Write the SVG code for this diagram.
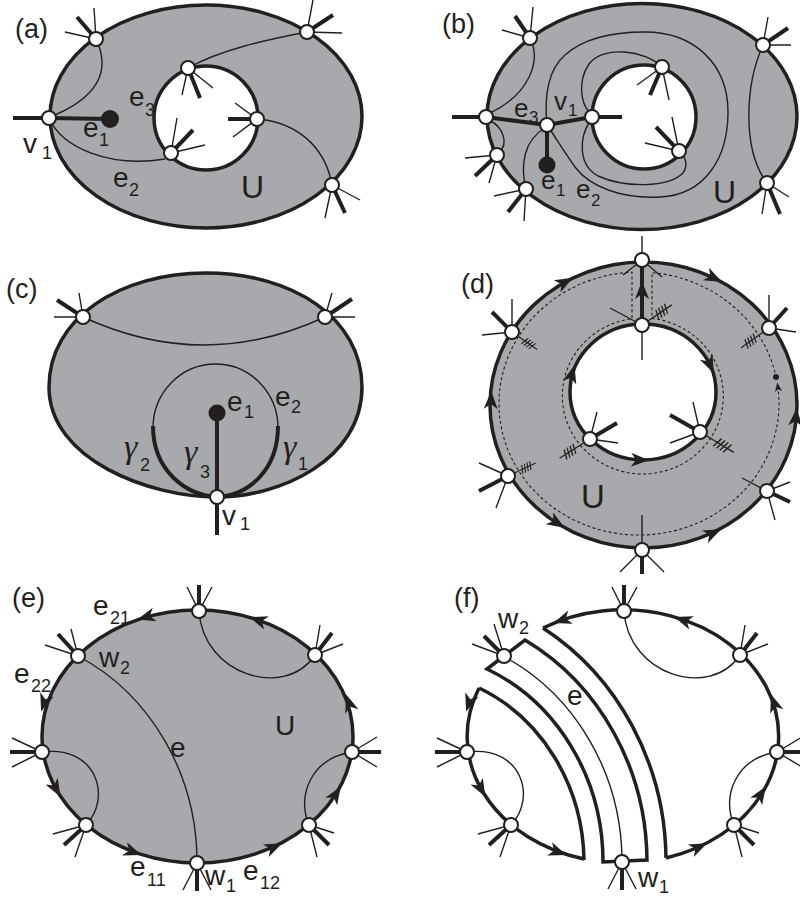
<svg xmlns="http://www.w3.org/2000/svg" xmlns:xlink="http://www.w3.org/1999/xlink" width="800" height="897" viewBox="0 0 800 897">
<style>
.g{fill:#a7a9ac}
.bd{fill:none;stroke:#231f20;stroke-width:3.5}
.bdg{fill:#a7a9ac;stroke:#231f20;stroke-width:3.5}
.bdw{fill:#fff;stroke:#231f20;stroke-width:3.5}
.th{fill:none;stroke:#231f20;stroke-width:1.4}
.tk{fill:none;stroke:#231f20;stroke-width:4}
.v{fill:#fff;stroke:#231f20;stroke-width:2}
.dot{fill:#231f20}
.ds{fill:none;stroke:#231f20;stroke-width:1.1;stroke-dasharray:3 2.5}
text{font-family:"Liberation Sans",Arial,sans-serif;fill:#231f20}
.lb{font-size:28px}
.pl{font-size:27px}
.s{font-size:18px}
.gm{font-style:italic;font-size:34px;font-family:"Liberation Serif","DejaVu Serif",serif}
</style>
<defs>
<path id="ah" d="M9,0 L-9,-7 L-4,0 L-9,7 Z" fill="#231f20"/>
<g id="hatch" fill="none" stroke="#231f20" stroke-width="1.3"><path d="M0,0H36 M20,-5 l-3,10 M23.5,-5 l-3,10 M27,-5 l-3,10 M30.5,-5 l-3,10"/></g>
<marker id="sm" viewBox="-6 -4 12 8" markerWidth="11" markerHeight="8" orient="auto" markerUnits="userSpaceOnUse"><path d="M5,0 L-5,-4 L-2.5,0 L-5,4Z" fill="#231f20"/></marker>
</defs>

<!-- ================= (a) ================= -->
<g id="panel-a">
<ellipse class="bdg" cx="206" cy="116.5" rx="156" ry="111.5"/>
<circle class="bdw" cx="206" cy="118" r="52"/>
<g id="a-edges">
<path class="th" d="M96,39 C107,62 108,92 55,115"/>
<path class="th" d="M49,118 C62,148 110,168 165,159"/>
<path class="th" d="M188,68 C220,50 265,40 307,32"/>
<path class="th" d="M257,119 C295,122 325,145 332,185"/>
<path class="tk" stroke-width="5" d="M49,118 L110,119"/>
<circle class="dot" cx="110" cy="119" r="9"/>
</g>
<g id="a-v1" transform="translate(49,118)"><path class="tk" d="M0,0 L-36,0"/><circle class="v" r="7"/></g>
<g id="a-tl" transform="translate(96,39)"><path class="tk" d="M0,0 L-19,-22"/><path class="th" d="M0,0 L-2,-31 M0,0 L-31,-7"/><circle class="v" r="7"/></g>
<g id="a-tr" transform="translate(307,32)"><path class="tk" d="M0,0 L26,-17"/><path class="th" d="M0,0 L6,-32 M0,0 L35,1"/><circle class="v" r="7"/></g>
<g id="a-br" transform="translate(332,185)"><path class="tk" d="M0,0 L13,28"/><path class="th" d="M0,0 L28,15 M0,0 L-7,33"/><circle class="v" r="7"/></g>
<g id="a-it" transform="translate(188,68)"><path class="tk" d="M0,0 L12,30"/><path class="th" d="M0,0 L-6,27 M0,0 L25,20"/><circle class="v" r="7"/></g>
<g id="a-ibl" transform="translate(171,153)"><path class="tk" d="M0,0 L22,-23"/><path class="th" d="M0,0 L6,-35 M0,0 L34,-8"/><circle class="v" r="7"/></g>
<g id="a-ir" transform="translate(257,119)"><path class="tk" d="M0,0 L-29,0"/><path class="th" d="M0,0 L-22,-16 M0,0 L-24,18"/><circle class="v" r="7"/></g>
<text class="pl" x="15" y="38">(a)</text>
<text class="lb" x="23" y="153">v<tspan class="s" x="42" y="159">1</tspan></text>
<text class="lb" x="83" y="137">e<tspan class="s" x="99" y="146">1</tspan></text>
<text class="lb" x="129" y="106">e<tspan class="s" x="145" y="116">3</tspan></text>
<text class="lb" x="113" y="187">e<tspan class="s" x="129" y="196">2</tspan></text>
<text x="241" y="198" font-size="32">U</text>
</g>

<!-- ================= (b) ================= -->
<g id="panel-b">
<ellipse class="bdg" cx="642" cy="116.5" rx="155" ry="113"/>
<circle class="bdw" cx="644" cy="117" r="52"/>
<g id="b-edges">
<path class="th" d="M530,38 C542,62 528,95 490,113"/>
<path class="th" d="M489,120 C505,128 508,145 499,152"/>
<path class="th" d="M526,189 C520,165 524,140 545,128"/>
<path class="th" d="M662,67 C645,50 603,45 589,64 C578,80 580,103 590,113"/>
<path class="th" d="M590,121 C579,138 578,165 598,176 C625,188 668,188 683,173 C688,166 686,158 681,153"/>
<path class="th" d="M547,125 C544,95 548,70 565,55 C585,37 615,32 645,32 C695,32 728,65 728,112 C728,158 705,195 660,197 C622,199 590,187 575,167 C565,153 557,140 551,131"/>
<path class="th" d="M763,45 C745,85 742,150 767,183"/>
<path class="tk" d="M486,117 L547,125 L592,117 M547,125 L547,165"/>
<circle class="dot" cx="547" cy="165" r="8.5"/>
</g>
<g id="b-tl" transform="translate(530,38)"><path class="tk" d="M0,0 L-15,-22"/><path class="th" d="M0,0 L3,-31 M0,0 L-28,-8"/><circle class="v" r="7"/></g>
<g id="b-l" transform="translate(486,117)"><path class="tk" d="M0,0 L-34,0"/><circle class="v" r="7"/></g>
<g id="b-ll1" transform="translate(497,155)"><path class="tk" d="M0,0 L-22,21"/><path class="th" d="M0,0 L-32,3 M0,0 L-8,28"/><circle class="v" r="7"/></g>
<g id="b-ll2" transform="translate(526,189)"><path class="tk" d="M0,0 L-18,23"/><path class="th" d="M0,0 L-32,7 M0,0 L-2,32"/><circle class="v" r="7"/></g>
<g id="b-tr" transform="translate(763,45)"><path class="tk" d="M0,0 L25,-17"/><path class="th" d="M0,0 L5,-28 M0,0 L28,0"/><circle class="v" r="7"/></g>
<g id="b-br" transform="translate(767,183)"><path class="tk" d="M0,0 L13,31"/><path class="th" d="M0,0 L22,14 M0,0 L-5,31"/><circle class="v" r="7"/></g>
<g id="b-il" transform="translate(592,117)"><path class="tk" d="M0,0 L30,0"/><circle class="v" r="7"/></g>
<g id="b-itr" transform="translate(662,67)"><path class="tk" d="M0,0 L-12,28"/><path class="th" d="M0,0 L-25,18 M0,0 L7,33"/><circle class="v" r="7"/></g>
<g id="b-ibr" transform="translate(679,151)"><path class="tk" d="M0,0 L-23,-24"/><path class="th" d="M0,0 L-34,-8 M0,0 L-7,-34"/><circle class="v" r="7"/></g>
<g id="b-v1" transform="translate(547,125)"><circle class="v" r="7"/></g>
<text class="pl" x="442" y="33">(b)</text>
<text font-size="26" x="514" y="117">e<tspan font-size="17" x="529" y="123">3</tspan></text>
<text font-size="26" x="554" y="110">v<tspan font-size="17" x="568" y="116">1</tspan></text>
<text font-size="26" x="541" y="189">e<tspan font-size="17" x="556" y="196">1</tspan></text>
<text font-size="26" x="576" y="198">e<tspan font-size="17" x="591" y="206">2</tspan></text>
<text x="713" y="203" font-size="32">U</text>
</g>

<!-- ================= (c) ================= -->
<g id="panel-c">
<path class="bdg" d="M217,497 C150,497 49,460 49,387 C49,318 120,273 206,273 C292,273 362,318 362,387 C362,460 280,497 217,497 Z"/>
<g id="c-edges">
<path class="th" d="M83,317 Q204,373 325,317"/>
<path class="th" d="M153,428 A62.5,64 0 0 1 278,428"/>
<path class="tk" stroke-width="6" d="M153,426 C153,470 185,495 217,497 M278,426 C278,470 249,495 217,497"/>
<path class="tk" stroke-width="4.5" d="M217,413 V452"/>
<path class="tk" stroke-width="7" d="M217,450 V497"/>
<circle class="dot" cx="217" cy="413" r="8.5"/>
</g>
<g id="c-tl" transform="translate(83,317)"><path class="tk" d="M0,0 L-26,-17"/><path class="th" d="M0,0 L-4,-24 M0,0 L-29,0"/><circle class="v" r="7"/></g>
<g id="c-tr" transform="translate(325,317)"><path class="tk" d="M0,0 L27,-18"/><path class="th" d="M0,0 L7,-24 M0,0 L30,0"/><circle class="v" r="7"/></g>
<g id="c-v1" transform="translate(217,497)"><path class="tk" d="M0,0 L0,38"/><circle class="v" r="7"/></g>
<text class="pl" x="6" y="298">(c)</text>
<text class="lb" x="227" y="411">e<tspan class="s" x="244" y="418">1</tspan></text>
<text class="lb" x="275" y="406">e<tspan class="s" x="291" y="413">2</tspan></text>
<text class="gm" x="124" y="458">γ<tspan font-size="18" font-style="normal" font-family="Liberation Sans" x="140" y="471">2</tspan></text>
<text class="gm" x="184" y="463">γ<tspan font-size="18" font-style="normal" font-family="Liberation Sans" x="200" y="478">3</tspan></text>
<text class="gm" x="283" y="458">γ<tspan font-size="18" font-style="normal" font-family="Liberation Sans" x="298" y="470">1</tspan></text>
<text class="lb" x="222" y="525">v<tspan class="s" x="240" y="530">1</tspan></text>
</g>

<!-- ================= (d) ================= -->
<g id="panel-d">
<ellipse class="bdg" cx="643.5" cy="405" rx="153.5" ry="143"/>
<ellipse class="bdw" cx="643" cy="392" rx="73" ry="68"/>
<g id="d-edges">
<path class="ds" marker-end="url(#sm)" d="M776.3,378 A140,131.5 0 0 0 652,272.6 L652,318.5 A80.5,78 0 1 1 632,318.7 L632,272.2 A140,131.5 0 1 0 777.9,387"/>
<circle class="dot" cx="776" cy="377" r="3"/>
<path class="tk" d="M642,325 L642,262"/>
<use href="#ah" transform="translate(642,290) rotate(-90)"/>
<use href="#ah" transform="translate(565,282) rotate(-29)"/>
<use href="#ah" transform="translate(714,278) rotate(26)"/>
<use href="#ah" transform="translate(796,417) rotate(-85)"/>
<use href="#ah" transform="translate(713,533) rotate(-25)"/>
<use href="#ah" transform="translate(557,523) rotate(32)"/>
<use href="#ah" transform="translate(491,400) rotate(-88)"/>
<use href="#ah" transform="translate(572,374) rotate(-74)"/>
<use href="#ah" transform="translate(710,365) rotate(65)"/>
<use href="#ah" transform="translate(640,460) rotate(2)"/>
</g>
<g id="d-ot" transform="translate(642,260)"><path class="th" d="M0,0 L0,-24 M0,0 L-19,15 M0,0 L20,17"/><circle class="v" r="7"/></g>
<g id="d-it" transform="translate(642,325)"><path class="th" d="M0,0 L-32,-17 M0,0 L0,35"/><use href="#hatch" transform="rotate(-34)"/><circle class="v" r="7"/></g>
<g id="d-ul" transform="translate(512,332)"><path class="tk" d="M0,0 L-20,-20"/><path class="th" d="M0,0 L0,-33 M0,0 L-30,3"/><use href="#hatch" transform="rotate(35) scale(0.85)"/><circle class="v" r="7"/></g>
<g id="d-ll" transform="translate(508,476)"><path class="tk" d="M0,0 L-29,15"/><path class="th" d="M0,0 L-29,-13 M0,0 L-12,32"/><use href="#hatch" transform="rotate(-25) scale(0.85)"/><circle class="v" r="7"/></g>
<g id="d-b" transform="translate(642,550)"><path class="tk" d="M0,0 L0,24"/><path class="th" d="M0,0 L0,-35 M0,0 L-22,22 M0,0 L22,22"/><circle class="v" r="7"/></g>
<g id="d-lr" transform="translate(767,491)"><path class="tk" d="M0,0 L23,11"/><path class="th" d="M0,0 L-25,-13 M0,0 L23,-9 M0,0 L8,29"/><circle class="v" r="7"/></g>
<g id="d-ur" transform="translate(769,328)"><path class="tk" d="M0,0 L18,-20"/><path class="th" d="M0,0 L0,-33 M0,0 L27,4"/><use href="#hatch" transform="rotate(144.5) scale(0.95)"/><circle class="v" r="7"/></g>
<g id="d-ill" transform="translate(590,439)"><path class="tk" d="M0,0 L27,-16"/><path class="th" d="M0,0 L7,-27 M0,0 L28,4"/><use href="#hatch" transform="rotate(147.7)"/><circle class="v" r="7"/></g>
<g id="d-ilr" transform="translate(700,432)"><path class="tk" d="M0,0 L-30,-17"/><path class="th" d="M0,0 L-7,-30 M0,0 L-30,11"/><use href="#hatch" transform="rotate(31) scale(1.1)"/><circle class="v" r="7"/></g>
<text class="pl" x="461" y="293">(d)</text>
<text x="581" y="508" font-size="33">U</text>
</g>

<!-- ================= (e) ================= -->
<g id="panel-e">
<ellipse class="bdg" cx="197.5" cy="736.5" rx="155.5" ry="126.5"/>
<g id="e-edges">
<path class="th" d="M199,611 C203,675 285,700 315,655"/>
<path class="th" d="M78,656 A214,230 0 0 1 197,863"/>
<path class="th" d="M42,752 C97,745 112,798 86,825"/>
<path class="th" d="M309,825 C296,795 312,758 352,752"/>
<use href="#ah" transform="translate(146,617) rotate(164)"/>
<use href="#ah" transform="translate(258,620) rotate(-161)"/>
<use href="#ah" transform="translate(44,703) rotate(108.6)"/>
<use href="#ah" transform="translate(56,789) rotate(60.8)"/>
<use href="#ah" transform="translate(133,852) rotate(20.3)"/>
<use href="#ah" transform="translate(274,847) rotate(-24.7)"/>
<use href="#ah" transform="translate(336,794) rotate(-57.7)"/>
<use href="#ah" transform="translate(349,703) rotate(-108.4)"/>
</g>
<g id="e-t" transform="translate(199,611)"><path class="tk" d="M0,0 L0,-26"/><path class="th" d="M0,0 L-12,-24 M0,0 L13,-24"/><circle class="v" r="7"/></g>
<g id="e-ur" transform="translate(315,655)"><path class="tk" d="M0,0 L17,-22"/><path class="th" d="M0,0 L5,-30 M0,0 L28,-11"/><circle class="v" r="7"/></g>
<g id="e-r" transform="translate(352,752)"><path class="tk" d="M0,0 L29,0"/><path class="th" d="M0,0 L25,-15 M0,0 L25,15"/><circle class="v" r="7"/></g>
<g id="e-lr" transform="translate(309,825)"><path class="tk" d="M0,0 L20,20"/><path class="th" d="M0,0 L25,8 M0,0 L8,32"/><circle class="v" r="7"/></g>
<g id="e-w1" transform="translate(197,863)"><path class="tk" d="M0,0 L0,28"/><path class="th" d="M0,0 L-14,27 M0,0 L14,27"/><circle class="v" r="7"/></g>
<g id="e-ll" transform="translate(86,825)"><path class="tk" d="M0,0 L-22,20"/><path class="th" d="M0,0 L-33,9 M0,0 L-11,32"/><circle class="v" r="7"/></g>
<g id="e-l" transform="translate(42,752)"><path class="tk" d="M0,0 L-32,0"/><path class="th" d="M0,0 L-30,-14 M0,0 L-30,15"/><circle class="v" r="7"/></g>
<g id="e-w2" transform="translate(78,656)"><path class="tk" d="M0,0 L-20,-22"/><path class="th" d="M0,0 L-7,-27 M0,0 L-33,-11"/><circle class="v" r="7"/></g>
<text class="pl" x="12" y="607">(e)</text>
<text class="lb" x="93" y="615">e<tspan class="s" x="110" y="624">21</tspan></text>
<text class="lb" x="14" y="683">e<tspan class="s" x="31" y="692">22</tspan></text>
<text class="lb" x="99" y="667">w<tspan class="s" x="120" y="674">2</tspan></text>
<text class="lb" x="170" y="757">e</text>
<text x="275" y="735" font-size="28">U</text>
<text class="lb" x="130" y="876">e<tspan class="s" x="147" y="886">11</tspan></text>
<text class="lb" x="205" y="885">w<tspan class="s" x="226" y="892">1</tspan></text>
<text class="lb" x="243" y="880">e<tspan class="s" x="260" y="889">12</tspan></text>
</g>

<!-- ================= (f) ================= -->
<g id="panel-f">
<g id="f-edges">
<path class="bd" d="M543,628 A155.5,126.5 0 1 1 666,858"/>
<path class="bd" d="M584,859 A155.5,126.5 0 0 1 479,688"/>
<path class="bd" d="M479,688 A176,192 0 0 1 584,860"/>
<path class="bd" d="M543,628 A258,274 0 0 1 666,858"/>
<path class="bd" stroke-linejoin="miter" d="M487,669 L525,640 A239,255 0 0 1 647,860 L603,862 A195,211 0 0 0 487,669 Z"/>
<path class="th" d="M503,656 A214,230 0 0 1 622,862"/>
<path class="th" d="M624,611 C628,675 710,700 740,655"/>
<path class="th" d="M467,752 C522,745 537,798 511,825"/>
<path class="th" d="M734,825 C721,795 737,758 777,752"/>
<use href="#ah" transform="translate(562,620) rotate(161)"/>
<use href="#ah" transform="translate(683,620) rotate(-161)"/>
<use href="#ah" transform="translate(469,703) rotate(108.6)"/>
<use href="#ah" transform="translate(481,789) rotate(60.8)"/>
<use href="#ah" transform="translate(558,852) rotate(20.3)"/>
<use href="#ah" transform="translate(699,847) rotate(-24.7)"/>
<use href="#ah" transform="translate(761,794) rotate(-57.7)"/>
<use href="#ah" transform="translate(774,703) rotate(-108.4)"/>
</g>
<g id="f-t" transform="translate(624,611)"><path class="tk" d="M0,0 L0,-26"/><path class="th" d="M0,0 L-12,-24 M0,0 L13,-24"/><circle class="v" r="7"/></g>
<g id="f-ur" transform="translate(740,655)"><path class="tk" d="M0,0 L17,-22"/><path class="th" d="M0,0 L5,-30 M0,0 L28,-11"/><circle class="v" r="7"/></g>
<g id="f-r" transform="translate(777,752)"><path class="tk" d="M0,0 L29,0"/><path class="th" d="M0,0 L25,-15 M0,0 L25,15"/><circle class="v" r="7"/></g>
<g id="f-lr" transform="translate(734,825)"><path class="tk" d="M0,0 L20,20"/><path class="th" d="M0,0 L25,8 M0,0 L8,32"/><circle class="v" r="7"/></g>
<g id="f-w1" transform="translate(622,862)"><path class="tk" d="M0,0 L0,28"/><path class="th" d="M0,0 L-14,27 M0,0 L14,27"/><circle class="v" r="7"/></g>
<g id="f-ll" transform="translate(511,825)"><path class="tk" d="M0,0 L-22,20"/><path class="th" d="M0,0 L-33,9 M0,0 L-11,32"/><circle class="v" r="7"/></g>
<g id="f-l" transform="translate(467,752)"><path class="tk" d="M0,0 L-32,0"/><path class="th" d="M0,0 L-30,-14 M0,0 L-30,15"/><circle class="v" r="7"/></g>
<g id="f-w2" transform="translate(504,656)"><path class="tk" d="M0,0 L-20,-20"/><path class="th" d="M0,0 L-10,-32 M0,0 L-32,-12"/><circle class="v" r="7"/></g>
<text class="pl" x="454" y="607">(f)</text>
<text class="lb" x="498" y="628">w<tspan class="s" x="519" y="634">2</tspan></text>
<text class="lb" x="567" y="705">e</text>
<text class="lb" x="638" y="887">w<tspan class="s" x="659" y="893">1</tspan></text>
</g>
</svg>
